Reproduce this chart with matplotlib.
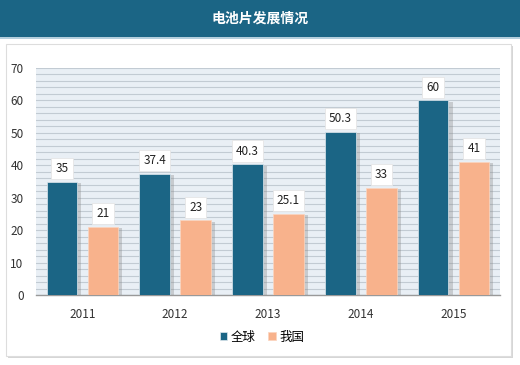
import matplotlib
matplotlib.use("Agg")
import matplotlib.pyplot as plt
import matplotlib.patheffects as pe
from matplotlib.patches import Rectangle
import numpy as np

plt.rcParams['font.family'] = ['Noto Sans CJK SC', 'DejaVu Sans']

title = "电池片发展情况"
years = ["2011", "2012", "2013", "2014", "2015"]
global_vals = [35, 37.4, 40.3, 50.3, 60]
china_vals = [21, 23, 25.1, 33, 41]
series_names = ["全球", "我国"]

c_global = "#1b6585"
c_china = "#f8b28c"

fig = plt.figure(figsize=(5.2, 3.65), dpi=100)
fig.patch.set_facecolor("white")

# header band
fig.patches.append(Rectangle((0, 1 - 37 / 365), 1, 37 / 365, transform=fig.transFigure,
                             facecolor=c_global, edgecolor="none", zorder=-5))
fig.patches.append(Rectangle((0, 1 - 39 / 365), 1, 2 / 365, transform=fig.transFigure,
                             facecolor="#b5d0de", edgecolor="none", zorder=-5))
fig.text(0.5, 1 - 19 / 365, title, color="white", fontsize=10, fontweight="bold",
         ha="center", va="center")

# white panel with shadow
panel = Rectangle((6 / 520, 1 - 356 / 365), 505 / 520, 312 / 365, transform=fig.transFigure,
                  facecolor="white", edgecolor="#dddddd", linewidth=0.8, zorder=-5,
                  path_effects=[pe.SimplePatchShadow(offset=(1.5, -1.5), shadow_rgbFace="#bbbbbb", alpha=0.6),
                                pe.Normal()])
fig.patches.append(panel)

ax = fig.add_axes([36 / 520, 1 - 295 / 365, 464 / 520, 227 / 365])
ax.set_zorder(2)
ax.set_facecolor("#e9eff5")

x = np.arange(len(years))
w = 0.33
off = 0.22
shadow = [pe.SimplePatchShadow(offset=(3, -1), shadow_rgbFace="#888888", alpha=0.35), pe.Normal()]
b1 = ax.bar(x - off, global_vals, w, color=c_global, edgecolor="#dfe8ee", linewidth=0.5,
            zorder=3, path_effects=shadow, label=series_names[0])
b2 = ax.bar(x + off, china_vals, w, color=c_china, edgecolor="#fbd5bf", linewidth=0.5,
            zorder=3, path_effects=shadow, label=series_names[1])

for bars, vals in ((b1, global_vals), (b2, china_vals)):
    for b, v in zip(bars, vals):
        ax.annotate(f"{v:g}", (b.get_x() + b.get_width() / 2, v), xytext=(0, 9.5),
                    textcoords="offset points", ha="center", va="center", fontsize=8.5,
                    color="#222222", zorder=5,
                    bbox=dict(boxstyle="square,pad=0.35", facecolor="white", edgecolor="#e6e6e6", linewidth=0.6))

ax.set_xlim(-0.5, len(years) - 0.5)
ax.set_ylim(0, 70)
ax.set_yticks(np.arange(0, 71, 10))
ax.set_yticks(np.arange(0, 71, 2), minor=True)
ax.yaxis.grid(True, which="both", color="#c2cbd3", linewidth=0.8, zorder=0)
ax.set_axisbelow(True)
ax.set_xticks(x)
ax.set_xticklabels(years)
ax.tick_params(axis="both", length=0, labelsize=8.5, colors="#333333")
ax.tick_params(axis="x", pad=9)
ax.tick_params(axis="y", pad=9)
ax.tick_params(which="minor", length=0)
for s in ("top", "right", "left"):
    ax.spines[s].set_visible(False)
ax.spines["bottom"].set_color("#999999")
ax.spines["bottom"].set_linewidth(1)

leg = fig.legend(handles=[b1, b2], labels=series_names, loc="center", bbox_to_anchor=(262 / 520, 1 - 337 / 365),
                 ncol=2, frameon=False, fontsize=9, handlelength=0.6, handleheight=0.6,
                 handletextpad=0.3, columnspacing=1.0)
for h in leg.legend_handles:
    h.set_path_effects([])

fig.savefig("out.png", dpi=100, facecolor=fig.get_facecolor())
